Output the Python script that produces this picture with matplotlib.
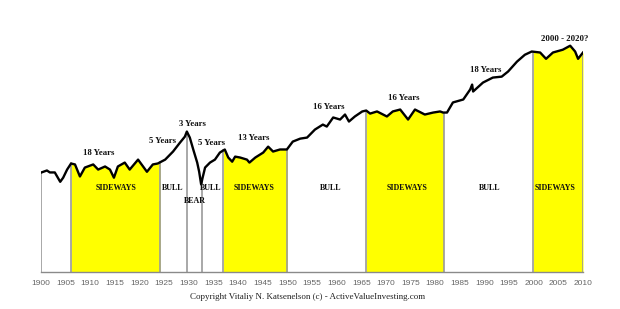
import numpy as np
import matplotlib
matplotlib.use("Agg")
import matplotlib.pyplot as plt
import matplotlib.transforms as mtransforms

# Dow Jones Industrial Average (approximate)
years = [1900.1, 1901.2, 1901.8, 1902.8, 1903.9, 1904.5, 1905.3, 1906.1, 1906.9, 1907.9,
         1908.9, 1910.6, 1911.6, 1913.0, 1914.0, 1914.8, 1915.6, 1917.0, 1918.0, 1919.7,
         1921.5, 1922.7, 1923.7, 1925.2, 1926.8, 1928.2, 1929.2, 1929.6, 1930.2, 1930.9,
         1931.7, 1932.1, 1932.5, 1932.8, 1933.3, 1934.3, 1935.3, 1936.3, 1937.3, 1938.0,
         1938.8, 1939.4, 1940.4, 1941.8, 1942.3, 1943.5, 1945.1, 1946.1, 1947.1, 1948.5,
         1949.9, 1951.1, 1952.6, 1954.0, 1955.6, 1957.2, 1958.0, 1959.3, 1960.7, 1961.7,
         1962.5, 1963.7, 1965.2, 1966.0, 1966.8, 1968.2, 1970.2, 1971.4, 1972.9, 1974.5,
         1975.9, 1977.9, 1979.6, 1981.0, 1981.6, 1982.4, 1983.6, 1985.7, 1987.1, 1987.5,
         1987.7, 1989.7, 1991.7, 1993.5, 1994.8, 1996.6, 1998.2, 1999.6, 2001.3, 2002.5,
         2003.9, 2005.9, 2007.4, 2008.4, 2009.0, 2010.0]
dow = [72, 78, 72, 72, 49, 58, 81, 104, 100, 61,
       88, 100, 81, 92, 81, 58, 92, 108, 81, 122,
       74, 100, 104, 122, 170, 245, 314, 387, 302, 185,
       108, 74, 44, 58, 88, 108, 122, 163, 185, 133,
       112, 138, 133, 122, 108, 133, 163, 208, 170, 185,
       185, 256, 289, 302, 420, 515, 475, 690, 634, 779,
       584, 719, 884, 918, 810, 884, 719, 884, 957, 634,
       957, 779, 845, 884, 845, 845, 1280, 1445, 2180, 2670,
       2007, 2900, 3560, 3700, 4570, 6860, 9100, 10400, 9980, 7700,
       9980, 11200, 13200, 10400, 7700, 9980]

# Market regimes
sideways_ranges = [(1906.1, 1924.2), (1937.0, 1950.0), (1966.0, 1981.7), (1999.9, 2010.0)]
gray_lines = [1900.1, 1929.6, 1932.6]

period_labels = ["18 Years", "5 Years", "3 Years", "5 Years", "13 Years",
                 "16 Years", "16 Years", "18 Years", "2000 - 2020?"]
period_x = [1911.8, 1924.6, 1930.8, 1934.7, 1943.2, 1958.5, 1973.7, 1990.3, 2006.3]
period_y = [0.472, 0.520, 0.587, 0.512, 0.532, 0.655, 0.690, 0.802, 0.925]

regime_labels = ["SIDEWAYS", "BULL", "BULL", "BEAR", "SIDEWAYS", "BULL", "SIDEWAYS", "BULL", "SIDEWAYS"]
regime_x = [1915.2, 1926.8, 1934.5, 1931.3, 1943.2, 1958.7, 1974.3, 1991.1, 2004.4]
regime_y = [0.333, 0.333, 0.333, 0.282, 0.333, 0.333, 0.333, 0.333, 0.333]

tick_years = list(range(1900, 2011, 5))

years_a = np.array(years)
dow_a = np.array(dow, dtype=float)
logd = np.log10(dow_a)

def curve_at(x):
    return 10 ** np.interp(x, years_a, logd)

fig = plt.figure(figsize=(6.2, 3.09), dpi=100)
ax = fig.add_axes([41 / 620, 37 / 309, 542 / 620, 252 / 309])
ax.set_yscale("log")
ymin, ymax = 1.2, 38000
ax.set_ylim(ymin, ymax)
ax.set_xlim(1900, 2010)

serif = ["Liberation Serif", "DejaVu Serif"]

for a, b in sideways_ranges:
    mask = (years_a > a) & (years_a < b)
    xs = np.concatenate([[a], years_a[mask], [b]])
    ys = np.concatenate([[curve_at(a)], dow_a[mask], [curve_at(b)]])
    ax.fill_between(xs, ymin, ys, color="#ffff00", lw=0, zorder=1)
    for e in (a, b):
        ax.plot([e, e], [ymin, curve_at(e)], color="#9a9a9a", lw=1.2, zorder=2)

for g in gray_lines:
    ax.plot([g, g], [ymin, curve_at(g)], color="#9a9a9a", lw=1.2, zorder=2)

ax.plot(years_a, dow_a, color="black", lw=1.7, zorder=3, solid_joinstyle="round")

trans = mtransforms.blended_transform_factory(ax.transData, ax.transAxes)
for t, x, y in zip(period_labels, period_x, period_y):
    ax.text(x, y, t, transform=trans, ha="center", va="center", fontsize=6.3,
            fontweight="bold", family=serif, color="#111111", zorder=4)
for t, x, y in zip(regime_labels, regime_x, regime_y):
    ax.text(x, y, t, transform=trans, ha="center", va="center", fontsize=5.8,
            fontweight="bold", family=serif, color="#111111", zorder=4)

for s in ["top", "right", "left"]:
    ax.spines[s].set_visible(False)
ax.spines["bottom"].set_color("#8a8a8a")
ax.spines["bottom"].set_linewidth(1.0)
ax.set_yticks([])
ax.minorticks_off()
ax.yaxis.set_minor_locator(matplotlib.ticker.NullLocator())
ax.set_xticks(tick_years)
ax.set_xticklabels([str(t) for t in tick_years], fontsize=6, color="#666666",
                   family=["Liberation Sans", "DejaVu Sans"])
ax.tick_params(axis="x", length=0, pad=6)

fig.text(308 / 620, 1 - 297 / 309, "Copyright Vitaliy N. Katsenelson (c) - ActiveValueInvesting.com",
         ha="center", va="center", fontsize=6.5, family=serif, color="#222222")

fig.savefig("out.png", dpi=100)
